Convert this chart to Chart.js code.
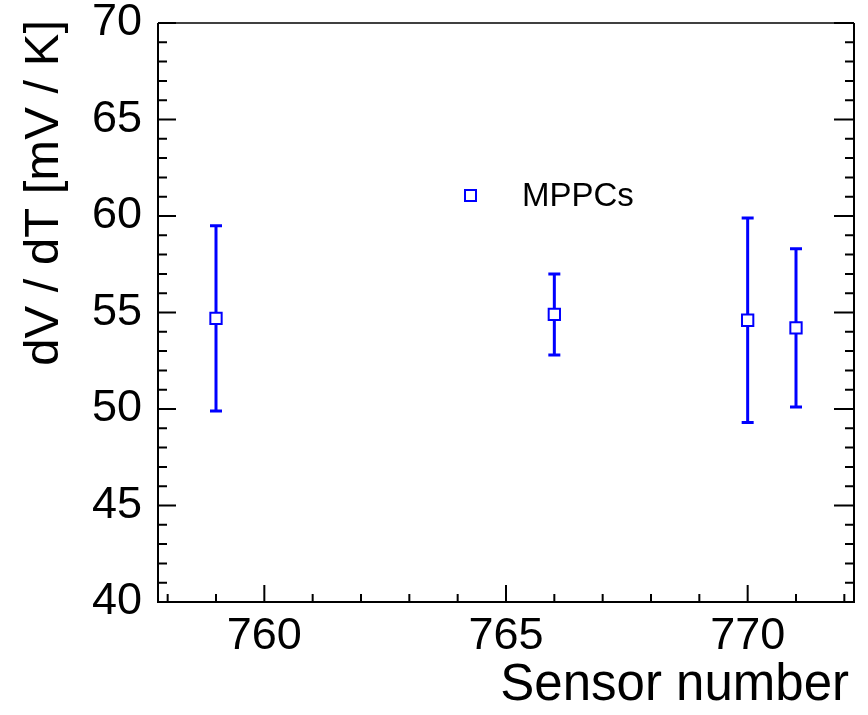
<!DOCTYPE html>
<html>
<head>
<meta charset="utf-8">
<script src="https://cdn.jsdelivr.net/npm/chart.js@4/dist/chart.umd.min.js"></script>
<style>
html,body{margin:0;padding:0;background:#fff;}
canvas{display:block;}
</style>
</head>
<body>
<canvas id="c" width="868" height="715"></canvas>
<script>
// ---- data ----
const sensors = [759, 766, 770, 771];
const slopes = [54.7, 54.9, 54.6, 54.2];
const slopeErrors = [4.8, 2.1, 5.3, 4.1];
const seriesLabel = 'MPPCs';
const xTitle = 'Sensor number';
const yTitle = 'dV / dT [mV / K]';
const xRange = [757.8, 772.2];
const yRange = [40, 70];

const FONT = '"Liberation Sans", Arial, Helvetica, sans-serif';
const BLUE = '#0000ff';

const points = sensors.map((s, i) => ({x: s, y: slopes[i], e: slopeErrors[i]}));

const rootPlugin = {
  id: 'rootStyle',
  beforeDatasetsDraw(chart) {
    const ctx = chart.ctx;
    const xs = chart.scales.x, ys = chart.scales.y;
    const a = chart.chartArea;
    ctx.save();
    // frame
    ctx.strokeStyle = '#000';
    ctx.lineWidth = 2;
    ctx.beginPath();
    ctx.moveTo(a.left, a.top); ctx.lineTo(a.left, a.bottom); ctx.lineTo(a.right, a.bottom); ctx.lineTo(a.right, a.top);
    ctx.stroke();
    ctx.lineWidth = 1.5;
    ctx.beginPath(); ctx.moveTo(a.left, a.top); ctx.lineTo(a.right, a.top); ctx.stroke();
    // ticks
    ctx.lineWidth = 2;
    ctx.beginPath();
    xs.ticks.forEach(t => {
      const px = xs.getPixelForValue(t.value);
      const major = Math.abs(t.value % 5) < 1e-6;
      const len = major ? 17 : 8;
      ctx.moveTo(px, a.bottom); ctx.lineTo(px, a.bottom - len);
    });
    ys.ticks.forEach(t => {
      const py = ys.getPixelForValue(t.value);
      const major = Math.abs(t.value % 5) < 1e-6;
      const len = major ? 18 : 9;
      ctx.moveTo(a.left, py); ctx.lineTo(a.left + len, py);
      ctx.moveTo(a.right, py); ctx.lineTo(a.right - (major ? 20 : 9), py);
    });
    ctx.stroke();
    // error bars
    ctx.strokeStyle = BLUE;
    ctx.lineWidth = 3;
    ctx.beginPath();
    points.forEach(p => {
      const px = xs.getPixelForValue(p.x);
      const yt = ys.getPixelForValue(p.y + p.e);
      const yb = ys.getPixelForValue(p.y - p.e);
      ctx.moveTo(px, yt); ctx.lineTo(px, yb);
      ctx.moveTo(px - 6, yt); ctx.lineTo(px + 6, yt);
      ctx.moveTo(px - 6, yb); ctx.lineTo(px + 6, yb);
    });
    ctx.stroke();
    ctx.restore();
  },
  afterDraw(chart) {
    const ctx = chart.ctx;
    ctx.save();
    ctx.fillStyle = '#000';
    // x title
    ctx.font = '51px ' + FONT;
    ctx.textAlign = 'right';
    ctx.textBaseline = 'alphabetic';
    ctx.fillText(xTitle, 849, 700);
    // y title
    ctx.save();
    ctx.translate(58, 20);
    ctx.rotate(-Math.PI / 2);
    ctx.font = '49px ' + FONT;
    ctx.textAlign = 'right';
    ctx.textBaseline = 'alphabetic';
    ctx.fillText(yTitle, 0, 0);
    ctx.restore();
    // legend
    ctx.strokeStyle = BLUE;
    ctx.lineWidth = 2;
    ctx.fillStyle = '#fff';
    ctx.fillRect(465, 190, 11, 11);
    ctx.strokeRect(465, 190, 11, 11);
    ctx.fillStyle = '#000';
    ctx.font = '33px ' + FONT;
    ctx.textAlign = 'left';
    ctx.textBaseline = 'middle';
    ctx.fillText(seriesLabel, 522, 197);
    ctx.restore();
  }
};

new Chart(document.getElementById('c'), {
  type: 'scatter',
  data: {
    datasets: [{
      label: seriesLabel,
      data: points,
      pointStyle: 'rect',
      pointRadius: 8,
      pointHoverRadius: 8,
      borderColor: BLUE,
      backgroundColor: '#ffffff',
      pointBorderWidth: 2,
      showLine: false
    }]
  },
  options: {
    responsive: false,
    animation: false,
    devicePixelRatio: 1,
    layout: {padding: {left: 0, right: 14, top: 23, bottom: 0}},
    plugins: {legend: {display: false}, tooltip: {enabled: false}},
    scales: {
      x: {
        type: 'linear',
        min: xRange[0], max: xRange[1],
        grid: {display: false, drawTicks: false},
        border: {display: false},
        ticks: {
          stepSize: 1, includeBounds: false, autoSkip: false, maxRotation: 0,
          padding: 12, color: '#000',
          font: {family: FONT, size: 45, lineHeight: 1.0},
          callback: v => (Math.abs(v % 5) < 1e-6 ? String(Math.round(v)) : '')
        },
        afterFit(s) { s.height = 113; s.paddingLeft = 0; s.paddingRight = 0; }
      },
      y: {
        type: 'linear',
        min: yRange[0], max: yRange[1],
        grid: {display: false, drawTicks: false},
        border: {display: false},
        ticks: {
          stepSize: 1, includeBounds: false, autoSkip: false,
          padding: 16, color: '#000',
          font: {family: FONT, size: 45, lineHeight: 1.0},
          callback: v => (Math.abs(v % 5) < 1e-6 ? String(Math.round(v)) : '')
        },
        afterFit(s) { s.width = 158; s.paddingTop = 0; s.paddingBottom = 0; }
      }
    }
  },
  plugins: [rootPlugin]
});
</script>
</body>
</html>
